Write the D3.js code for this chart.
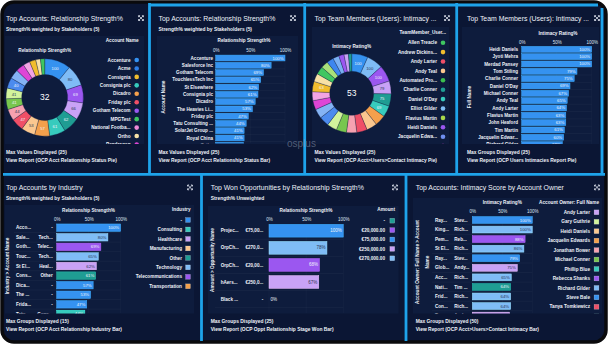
<!DOCTYPE html>
<html>
<head>
<meta charset="utf-8">
<script src="https://cdn.jsdelivr.net/npm/d3@7"></script>
<style>
  body { margin: 0; background: #ffffff; }
  svg text { font-family: "Liberation Sans", Arial, sans-serif; }
</style>
</head>
<body>
<svg id="dash" width="610" height="345"></svg>
<script>
// ---- data ----

// Panel 1: account relationship pie
const acctPieValues = [100, 80, 69, 66, 62, 61, 57, 53, 47, 44, 41, 41, 40, 36, 32, 26, 24, 18, 16];
const acctPieLabelled = 13;
const acctPieCenter = "32";
const acctLegendNames = ["Accenture", "Acme", "Consignia", "Consignia plc", "Dicadro", "Friday plc",
  "Gotham Telecom", "MPGTest", "National Footba...", "Ortho", "Pendragon"];

// Panel 2: account relationship bars
const strengthAccounts = ["Accenture", "Salesforce Inc", "Gotham Telecom", "TouchlessTech Inc", "St Elsewhere",
  "Consignia plc", "Dicadro", "The Heavies Li...", "Friday plc", "Tatu Consulting ...", "SolarJet Group ...",
  "Royal China", "Ortho"];
const strengthValues = [100, 80, 69, 65, 62, 61, 57, 53, 47, 44, 41, 41, 40];

// Panel 3: team member intimacy pie
const userPieValues = [100, 100, 100, 79, 75, 69, 67, 65, 64, 63, 63, 61, 60, 58, 56, 55, 63, 50, 48, 45, 42, 38, 32, 27, 20];
const userPieLabelled = [0, 1, 2, 3, 4, 5, 16];
const userPieCenter = "53";
const userLegendNames = ["Allen Treacle", "Andrew Dickins...", "Andy Larter", "Andy Teal", "Automated Pro...",
  "Charlie Conner", "Daniel O'Day", "Elliot Gilder", "Flavius Martin", "Heidi Daniels", "Jacquelin Edwa...", "John Heaford"];

// Panel 4: team member intimacy bars
const intimacyUsers = ["Heidi Daniels", "Jyoti Mehra", "Merdad Pansey", "Tom Stiling", "Charlie Conner", "Daniel O'Day",
  "Michael Conner", "Andy Teal", "Andy Larter", "Flavius Martin", "John Heaford", "Tim Martin", "Jacquelin Edwar...",
  "Richard Gilder"];
const intimacyValues = [100, 100, 100, 79, 75, 69, 67, 65, 64, 63, 63, 61, 60, 58];

// Panel 5: accounts by industry
const industryAccounts = ["Acco...", "Sale...", "Goth...", "Touc...", "St El...", "Cons...", "Dica...", "The ...", "Frida...", "Tatu..."];
const industryShort = ["-", "Tech...", "Telec...", "Tech...", "Heal...", "Other", "-", "-", "-", "Cons..."];
const industryOf = ["-", "Technology", "Telecommunications", "Technology", "Healthcare", "Other", "-", "-", "-", "Consulting"];
const industryValues = [100, 80, 69, 65, 62, 61, 57, 53, 47, 44];
const industryNames = ["-", "Consulting", "Healthcare", "Manufacturing", "Other", "Technology", "Telecommunications", "Transportation"];

// Panel 6: won opportunities
const oppNames = ["Projec...", "OrpCh...", "OrpCh...", "hAers...", "Black ..."];
const oppAmountsShort = ["€75,00...", "€270,0...", "€20,00...", "€250,0...", "-"];
const oppAmountOf = ["€75,000.00", "€270,000.00", "€20,000.00", "€250,000.00", "-"];
const oppValues = [100, 78, 68, 67, 0];
const amountNames = ["-", "€20,000.00", "€75,000.00", "€250,000.00", "€270,000.00"];

// Panel 7: intimacy by account owner
const ownerAccounts = ["Ray...", "King...", "Pem...", "St El...", "Ray...", "Glob...", "Acc...", "Nati...", "Frid...", "Con...", "Tou..."];
const ownerShort = ["Stev...", "Rich...", "Reb...", "Rich...", "Stev...", "Andy...", "Rich...", "Tim ...", "Rich...", "Rich...", "Andy..."];
const ownerOf = ["Steve Bale", "Richard Gilder", "Rebecca Shanks", "Richard Gilder", "Steve Bale", "Andy Larter",
  "Richard Gilder", "Tim Martin", "Richard Gilder", "Richard Gilder", "Andy Larter"];
const ownerValues = [100, 100, 88, 86, 79, 75, 65, 64, 64, 64, 62];
const ownerNames = ["Andy Larter", "Gary Guthrie", "Heidi Daniels", "Jacquelin Edwards", "Jonathan Bower", "Michael Conner",
  "Phillip Blue", "Rebecca Shanks", "Richard Gilder", "Steve Bale", "Tanya Tomkiewicz", "Tim Martin"];

// ---- palettes ----
const BLUE = "#3592f0", LBLUE = "#7fbcf6", PURPLE = "#9b57f0", LAV = "#c9a2f6", TEAL = "#1f9d93",
  AQUA = "#37cbbd", ORANGE = "#f4a04c", PEACH = "#fbc78f", RED = "#ef4f67", PINK = "#f6a1b0",
  GREEN = "#78c64e", LGREEN = "#d2f39c", GOLD = "#f1bd2e", CREAM = "#f7e1a6", MAGENTA = "#de45d6";
const acctPieColors = [BLUE, LBLUE, PURPLE, LAV, TEAL, AQUA, ORANGE, PEACH, RED, PINK, GREEN, LGREEN,
  "#4c8bee", "#84b3f4", MAGENTA, "#f2a4e4", GOLD, CREAM, "#3fc661"];
const acctLegendColors = [BLUE, "#2f7fe6", GOLD, AQUA, ORANGE, RED, PURPLE, "#3fc661", "#f08ad8", CREAM, MAGENTA];
const userPieColors = [BLUE, LBLUE, PURPLE, LAV, TEAL, AQUA, ORANGE, PEACH, RED, PINK, GREEN, LGREEN,
  "#4c8bee", "#84b3f4", MAGENTA, "#f2a4e4", GOLD, CREAM, "#3fc661", "#a9e07a", "#3d86ee", "#7ab0f4", PURPLE, LAV, TEAL];
const userLegendColors = ["#3fc661", GOLD, RED, PEACH, "#3cbf4e", TEAL, AQUA, LBLUE, "#a9d84a", PURPLE, "#6f8ff0", MAGENTA];
const industryColors = [BLUE, AQUA, LAV, PEACH, TEAL, LBLUE, PURPLE, ORANGE];
const amountColors = [TEAL, PURPLE, BLUE, LAV, LBLUE];
const ownerColors = [LAV, LGREEN, PEACH, ORANGE, PINK, GREEN, AQUA, PURPLE, LBLUE, BLUE, RED, TEAL];

const PANEL_BG = "#0b1634", BOX_BG = "#0e1c3d", CYAN = "#1ea3ea", TEXT = "#eef2f9";

const svg = d3.select("#dash");
const defs = svg.append("defs");
let clipN = 0;

function clipFor(box) {
  const id = "clip" + (clipN++);
  defs.append("clipPath").attr("id", id).append("rect")
    .attr("x", box[0]).attr("y", box[1])
    .attr("width", box[2] - box[0]).attr("height", box[3] - box[1]);
  return "url(#" + id + ")";
}

function label(g, x, y, s, size, opt = {}) {
  return g.append("text").attr("x", x).attr("y", y).text(s)
    .attr("fill", opt.fill || TEXT)
    .attr("font-size", size)
    .attr("font-weight", opt.bold ? "bold" : "normal")
    .attr("text-anchor", opt.anchor || "start");
}

function inkFor(c) {
  return d3.hsl(c).l > 0.66 ? "#2b3754" : "#eef3fb";
}

function expandIcon(g, x, y) {
  const s = 2.4;
  const p = g.append("g").attr("transform", `translate(${x},${y})`)
    .attr("stroke", "#e8eef8").attr("stroke-width", 0.8).attr("fill", "none");
  p.append("path").attr("d", `M${-s},${-s}L${s},${s}M${s},${-s}L${-s},${s}`);
  p.append("path").attr("d",
    `M${-s},${-s + 1.5}V${-s}H${-s + 1.5}M${s - 1.5},${-s}H${s}V${-s + 1.5}` +
    `M${s},${s - 1.5}V${s}H${s - 1.5}M${-s + 1.5},${s}H${-s}V${s - 1.5}`);
}

// ---- frame ----
svg.append("rect").attr("x", 2).attr("y", 2).attr("width", 604).attr("height", 340)
  .attr("rx", 12).attr("fill", PANEL_BG).attr("stroke", "#0a0a0c").attr("stroke-width", 3.5);

function panel(p) {
  const g = svg.append("g");
  g.append("rect").attr("x", p.box[0]).attr("y", p.box[1])
    .attr("width", p.box[2] - p.box[0]).attr("height", p.box[3] - p.box[1]).attr("fill", BOX_BG);
  label(g, p.x, p.titleY, p.title, 6.9);
  if (p.subtitle) label(g, p.x, p.titleY + 10.3, p.subtitle, 4.9, {bold: true});
  expandIcon(g, p.iconX, p.titleY - 2.4);
  p.footer.forEach((f, i) => label(g, p.x, p.footY + i * 8.5, f, 4.9, {bold: true}));
  return g;
}

function barChart(g, c) {
  const x = d3.scaleLinear().domain([0, 100]).range(c.xRange);
  const n = c.values.length;
  const top = c.firstRow - c.step / 2;
  const y = d3.scaleBand().domain(d3.range(n)).range([top, top + c.step * n])
    .paddingInner(c.pad).paddingOuter(c.pad / 2);

  label(g, c.headerX, c.headerY, c.header, 4.7, {bold: true, anchor: "middle"});
  const axis = g.append("g").attr("transform", `translate(0,${c.tickY})`)
    .call(d3.axisTop(x).tickValues([0, 50, 100]).tickFormat(d => d + "%").tickSize(0).tickPadding(0));
  axis.select(".domain").remove();
  axis.selectAll("text").attr("fill", "#dfe6f2").attr("font-size", 4.5);

  const inner = g.append("g").attr("clip-path", clipFor(c.box));
  inner.selectAll(null).data([0, 50, 100]).join("line")
    .attr("x1", d => x(d)).attr("x2", d => x(d))
    .attr("y1", c.tickY + 2).attr("y2", c.box[3])
    .attr("stroke", "#ffffff").attr("stroke-opacity", 0.06).attr("stroke-width", 0.5);
  inner.selectAll(null).data(d3.range(1, n + 1)).join("line")
    .attr("x1", c.sepX).attr("x2", x(100))
    .attr("y1", i => top + i * c.step).attr("y2", i => top + i * c.step)
    .attr("stroke", "#ffffff").attr("stroke-opacity", 0.07).attr("stroke-width", 0.5);

  inner.selectAll(null).data(c.values).join("rect")
    .attr("x", x(0)).attr("y", (d, i) => y(i))
    .attr("width", d => x(d) - x(0)).attr("height", y.bandwidth())
    .attr("fill", (d, i) => c.colors[i])
    .attr("stroke", (d, i) => d3.color(c.colors[i]).brighter(0.5)).attr("stroke-width", 0.5);

  inner.selectAll(null).data(c.values).join("text")
    .attr("x", d => d < 12 ? x(d) + 1.5 : x(d) - 1.5)
    .attr("y", (d, i) => y(i) + y.bandwidth() / 2).attr("dy", "0.35em")
    .attr("text-anchor", d => d < 12 ? "start" : "end")
    .attr("fill", (d, i) => d < 12 ? TEXT : inkFor(c.colors[i]))
    .attr("font-size", c.valueSize || 4.3)
    .text(d => d + "%");

  c.columns.forEach(col => {
    inner.selectAll(null).data(col.labels).join("text")
      .attr("x", col.x).attr("y", (d, i) => y(i) + y.bandwidth() / 2).attr("dy", "0.35em")
      .attr("text-anchor", col.anchor).attr("fill", TEXT)
      .attr("font-size", col.size || 4.6).attr("font-weight", "bold")
      .text(d => d);
  });

  c.yTitle.forEach((t, i) => {
    g.append("text")
      .attr("transform", `translate(${c.yTitleX + i * 10},${c.yTitleY}) rotate(-90)`)
      .attr("text-anchor", "middle").attr("fill", TEXT)
      .attr("font-size", 4.7).attr("font-weight", "bold").text(t);
  });
}

function legend(g, c) {
  label(g, c.headerX, c.headerY, c.header, 4.7, {bold: true, anchor: "end"});
  const inner = g.append("g").attr("clip-path", clipFor(c.box));
  const rows = inner.selectAll(null).data(c.names).join("g")
    .attr("transform", (d, i) => `translate(0,${c.y0 + i * c.step})`);
  rows.append("text").attr("x", c.textX).attr("dy", "0.35em").attr("text-anchor", "end")
    .attr("fill", TEXT).attr("font-size", 4.7).attr("font-weight", "bold").text(d => d);
  if (c.shape === "circle") {
    rows.append("circle").attr("cx", c.markX).attr("r", 2.3).attr("fill", (d, i) => c.colors[i]);
  } else {
    rows.append("rect").attr("x", c.markX - 2.4).attr("y", -2.4).attr("width", 4.8).attr("height", 4.8)
      .attr("fill", (d, i) => c.colors[i]).attr("stroke", "#ffffff").attr("stroke-opacity", 0.5).attr("stroke-width", 0.4);
  }
}

function donut(g, c) {
  const arcs = d3.pie().sort(null).value(d => d)(c.values);
  const arc = d3.arc().innerRadius(c.r0).outerRadius(c.r1);
  const mid = d3.arc().innerRadius((c.r0 + c.r1) / 2).outerRadius((c.r0 + c.r1) / 2);
  label(g, c.cx, c.titleY, c.title, 4.7, {bold: true, anchor: "middle"});
  const gg = g.append("g").attr("transform", `translate(${c.cx},${c.cy})`);
  gg.selectAll(null).data(arcs).join("path")
    .attr("d", arc).attr("fill", (d, i) => c.colors[i])
    .attr("stroke", BOX_BG).attr("stroke-width", 0.3);
  gg.selectAll(null).data(arcs).join("text")
    .attr("transform", d => `translate(${mid.centroid(d)})`)
    .attr("dy", "0.35em").attr("text-anchor", "middle")
    .attr("font-size", 4.2).attr("fill", (d, i) => inkFor(c.colors[i]))
    .text((d, i) => c.labels[i]);
  gg.append("text").attr("dy", "0.35em").attr("text-anchor", "middle")
    .attr("fill", "#ffffff").attr("font-size", 8.5).text(c.center);
}

// ---- Panel 1 ----
const p1 = panel({x: 6, titleY: 20.5, iconX: 141, footY: 153.5, box: [5, 36, 144, 144],
  title: "Top Accounts: Relationship Strength%",
  subtitle: "Strength% weighted by Stakeholders (5)",
  footer: ["Max Values Displayed (25)", "View Report (OCP Acct Relationship Status Pie)"]});
donut(p1, {cx: 44.7, cy: 97.5, r0: 23, r1: 38.7, values: acctPieValues, colors: acctPieColors,
  labels: acctPieValues.map((v, i) => i < acctPieLabelled ? v : ""),
  center: acctPieCenter, title: "Relationship Strength%", titleY: 51.5});
legend(p1, {header: "Account Name", headerX: 138.5, headerY: 41.7, names: acctLegendNames, colors: acctLegendColors,
  shape: "circle", textX: 130.5, markX: 136.7, y0: 60, step: 8.45, box: [60, 44, 144, 144]});

// ---- Panel 2 ----
const p2 = panel({x: 158.5, titleY: 20.5, iconX: 293, footY: 153.5, box: [157, 36, 298, 144],
  title: "Top Accounts: Relationship Strength%",
  subtitle: "Strength% weighted by Stakeholders (5)",
  footer: ["Max Values Displayed (25)", "View Report (OCP Acct Relationship Status Bar)"]});
barChart(p2, {xRange: [215.7, 285], values: strengthValues, colors: strengthValues.map(() => BLUE),
  firstRow: 58, step: 7.27, pad: 0.2, box: [157, 53, 298, 143.5], sepX: 215.7,
  header: "Relationship Strength%", headerX: 244, headerY: 42.4, tickY: 51.5,
  columns: [{labels: strengthAccounts, x: 213, anchor: "end"}],
  yTitle: ["Account Name"], yTitleX: 164.5, yTitleY: 97});

// ---- Panel 3 ----
const p3 = panel({x: 314.5, titleY: 20.5, iconX: 447, footY: 153.5, box: [312, 27, 449, 144],
  title: "Top Team Members (Users): Intimacy ...",
  footer: ["Max Values Displayed (25)", "View Report (OCP Acct>Users>Contact Intimacy Pie)"]});
donut(p3, {cx: 351.7, cy: 93.3, r0: 22, r1: 39.5, values: userPieValues, colors: userPieColors,
  labels: userPieValues.map((v, i) => userPieLabelled.includes(i) ? v : ""),
  center: userPieCenter, title: "Intimacy Rating%", titleY: 47.5});
legend(p3, {header: "TeamMember_User...", headerX: 446, headerY: 33.5, names: userLegendNames, colors: userLegendColors,
  shape: "circle", textX: 437, markX: 443, y0: 42.7, step: 9.4, box: [370, 36, 449, 144]});

// ---- Panel 4 ----
const p4 = panel({x: 467, titleY: 20.5, iconX: 597, footY: 153.5, box: [462, 27, 599, 144],
  title: "Top Team Members (Users): Intimacy ...",
  footer: ["Max Groups Displayed (25)", "View Report (OCP Users Intimacies Report Pie)"]});
barChart(p4, {xRange: [521.7, 591.7], values: intimacyValues, colors: intimacyValues.map(() => BLUE),
  firstRow: 49.3, step: 7.33, pad: 0.2, box: [462, 45, 599, 144], sepX: 521.7,
  header: "Intimacy Rating%", headerX: 558, headerY: 35, tickY: 43.8,
  columns: [{labels: intimacyUsers, x: 518, anchor: "end"}],
  yTitle: ["Full Name"], yTitleX: 471, yTitleY: 97});

// ---- Panel 5 ----
const indColor = d3.scaleOrdinal(industryNames, industryColors);
const p5 = panel({x: 6, titleY: 189.8, iconX: 190, footY: 322.5, box: [5, 205, 194, 313.5],
  title: "Top Accounts by Industry",
  subtitle: "Strength% weighted by Stakeholders (5)",
  footer: ["Max Groups Displayed (15)", "View Report (OCP Acct Relationship Industry Bar)"]});
barChart(p5, {xRange: [56.7, 120.7], values: industryValues, colors: industryOf.map(d => indColor(d)),
  firstRow: 227.7, step: 9.58, pad: 0.22, box: [5, 222, 194, 313.5], sepX: 14,
  header: "Relationship Strength%", headerX: 88.5, headerY: 211.5, tickY: 220.8,
  columns: [{labels: industryAccounts, x: 16, anchor: "start"}, {labels: industryShort, x: 52.7, anchor: "end"}],
  yTitle: ["Industry > Account Name"], yTitleX: 8.5, yTitleY: 266});
legend(p5, {header: "Industry", headerX: 190.5, headerY: 210.8, names: industryNames, colors: industryColors,
  shape: "square", textX: 182, markX: 188, y0: 220, step: 9.47, box: [125, 214, 194, 313.5]});

// ---- Panel 6 ----
const amtColor = d3.scaleOrdinal(amountNames, amountColors);
const p6 = panel({x: 210.7, titleY: 189.8, iconX: 395, footY: 322.5, box: [208, 206, 398.5, 313.5],
  title: "Top Won Opportunities by Relationship Strength%",
  subtitle: "Strength% Unweighted",
  footer: ["Max Groups Displayed (25)", "View Report (OCP Oppt Relationship Stage Won Bar)"]});
barChart(p6, {xRange: [269, 343.3], values: oppValues, colors: oppAmountOf.map(d => amtColor(d)),
  firstRow: 230.7, step: 17.1, pad: 0.25, box: [208, 222, 398.5, 313.5], sepX: 215, valueSize: 4.5,
  header: "Relationship Strength%", headerX: 306, headerY: 211.5, tickY: 220.8,
  columns: [{labels: oppNames, x: 220.7, anchor: "start"}, {labels: oppAmountsShort, x: 263.3, anchor: "end"}],
  yTitle: ["Amount > Opportunity Name"], yTitleX: 214, yTitleY: 260});
legend(p6, {header: "Amount", headerX: 395, headerY: 210.8, names: amountNames, colors: amountColors,
  shape: "square", textX: 385, markX: 392.3, y0: 220.7, step: 9.4, box: [350, 214, 398.5, 313.5]});

// ---- Panel 7 ----
const ownColor = d3.scaleOrdinal(ownerNames, ownerColors);
const p7 = panel({x: 415.7, titleY: 189.8, iconX: 597, footY: 322.5, box: [413, 198, 602, 313.5],
  title: "Top Accounts: Intimacy Score by Account Owner",
  footer: ["Max Groups Displayed (50)", "View Report (OCP Acct>Users>Contact Intimacy Bar)"]});
barChart(p7, {xRange: [472.3, 532.3], values: ownerValues, colors: ownerOf.map(d => ownColor(d)),
  firstRow: 220, step: 9.56, pad: 0.28, box: [413, 214.5, 602, 313.5], sepX: 432,
  header: "Intimacy Rating%", headerX: 502.3, headerY: 204, tickY: 213.2,
  columns: [{labels: ownerAccounts, x: 435, anchor: "start"}, {labels: ownerShort, x: 454.3, anchor: "start"}],
  yTitle: ["Account Owner: Full Name > Account", "Name"], yTitleX: 418.5, yTitleY: 262});
legend(p7, {header: "Account Owner: Full Name", headerX: 599, headerY: 204, names: ownerNames, colors: ownerColors,
  shape: "square", textX: 590, markX: 596.5, y0: 212.3, step: 9.45, box: [536, 207, 602, 313.5]});

// ---- panel dividers ----
const dividers = [
  [3, 174.3, 605, 174.3], [149.5, 5, 598, 5],
  [149.5, 3, 149.5, 174.3], [304.7, 3, 304.7, 174.3], [456.7, 3, 456.7, 174.3], [602, 8, 602, 174.3],
  [201.5, 174.3, 201.5, 341], [406, 174.3, 406, 341]
];
svg.append("g").selectAll("line").data(dividers).join("line")
  .attr("x1", d => d[0]).attr("y1", d => d[1]).attr("x2", d => d[2]).attr("y2", d => d[3])
  .attr("stroke", CYAN).attr("stroke-width", 2.8);

// watermark
svg.append("text").attr("x", 287).attr("y", 146.5).text("osplus")
  .attr("fill", "#8d97ad").attr("fill-opacity", 0.55).attr("font-size", 10);
</script>
</body>
</html>
